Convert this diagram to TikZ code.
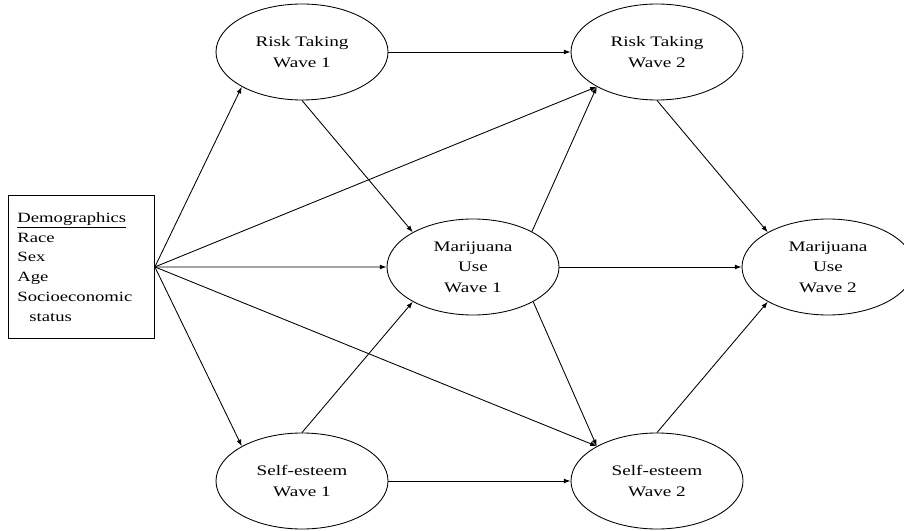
\documentclass[tikz,border=0pt]{standalone}
\usepackage{fontspec}
\setmainfont{Liberation Serif}[FakeStretch=1.32]
\usetikzlibrary{shapes.geometric,arrows.meta}
\begin{document}
\begin{tikzpicture}[x=0.75pt,y=-0.75pt,
  lat/.style={ellipse,draw,line width=0.65pt,minimum width=129pt,minimum height=72pt,
    inner sep=0pt,align=center,font=\fontsize{10.9}{15.3}\selectfont},
  demobox/.style={draw,line width=0.65pt,minimum width=109.5pt,minimum height=107.25pt,
    inner xsep=6.75pt,inner ysep=0pt,text width=96pt,align=left,anchor=north west,
    font=\fontsize{10.6}{14.8}\selectfont},
  arr/.style={-{Latex[length=5pt,width=3.6pt]},line width=0.65pt}]
\useasboundingbox (0,0) rectangle (904,531);
\clip (0,0) rectangle (904,531);
\node[demobox] (demo) at (8,195) {\underline{Demographics}\\Race\\Sex\\Age\\Socioeconomic\\\hspace*{9pt}status};
\node[lat] (rt1) at (302,52) {Risk Taking\\Wave 1};
\node[lat] (rt2) at (657,52) {Risk Taking\\Wave 2};
\node[lat] (mu1) at (473,267) {Marijuana\\Use\\Wave 1};
\node[lat] (mu2) at (828,267) {Marijuana\\Use\\Wave 2};
\node[lat] (se1) at (302,481) {Self-esteem\\Wave 1};
\node[lat] (se2) at (657,481) {Self-esteem\\Wave 2};
\draw[arr] (demo.east) -- (rt1.210);
\draw[arr] (demo.east) -- (rt2.210);
\draw[arr] (demo.east) -- (mu1.west);
\draw[arr] (demo.east) -- (se1.150);
\draw[arr] (demo.east) -- (se2.150);
\draw[arr] (rt1.east) -- (rt2.west);
\draw[arr] (rt1.south) -- (mu1.150);
\draw[arr] (mu1.31) -- (rt2.210);
\draw[arr] (rt2.south) -- (mu2.150);
\draw[arr] (mu1.east) -- (mu2.west);
\draw[arr] (se1.north) -- (mu1.210);
\draw[arr] (mu1.330) -- (se2.150);
\draw[arr] (se2.north) -- (mu2.210);
\draw[arr] (se1.east) -- (se2.west);
\end{tikzpicture}
\end{document}
